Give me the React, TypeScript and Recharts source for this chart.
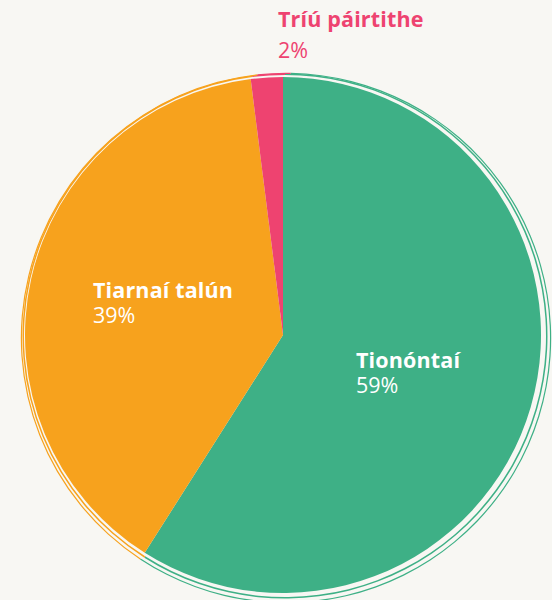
import { PieChart, Pie, Cell } from "recharts";

const categories = ["Tionóntaí", "Tiarnaí talún", "Tríú páirtithe"];
const shares = [59, 39, 2];
const colors = ["#3eb086", "#f7a21d", "#ee4370"];
const labelColors = ["#ffffff", "#ffffff", "#ee4370"];

const data = categories.map((name, i) => ({ name, value: shares[i] }));

const CX = 283;
const CY = 335;
const R = 258;
// label anchor offsets from pie centre (first-line baseline, left aligned)
const LABEL_OFFSETS = [
  { dx: 73, dy: 33, gap: 25 },
  { dx: -190, dy: -37, gap: 25 },
  { dx: -5, dy: -308, gap: 31 },
];

const FONT = "'Open Sans', 'Noto Sans', sans-serif";

interface LabelProps {
  cx: number;
  cy: number;
  index: number;
  name: string;
  value: number;
}

function renderLabel({ cx, cy, index, name, value }: LabelProps) {
  const off = LABEL_OFFSETS[index];
  const x = cx + off.dx;
  const y = cy + off.dy;
  return (
    <text x={x} y={y} fill={labelColors[index]} fontFamily={FONT} textAnchor="start">
      <tspan x={x} fontSize={21.5} fontWeight={700} letterSpacing={0.15}>
        {name}
      </tspan>
      <tspan x={x} dy={off.gap} fontSize={21.5} fontWeight={400}>
        {value}%
      </tspan>
    </text>
  );
}

export default function App() {
  return (
    <div
      style={{
        position: "absolute",
        left: 0,
        top: 0,
        width: 552,
        height: 600,
        background: "#f8f7f3",
        overflow: "hidden",
      }}
    >
      <PieChart width={552} height={600} margin={{ top: 0, right: 0, bottom: 0, left: 0 }}>
        {/* sketchy outer outlines */}
        <Pie
          data={data}
          dataKey="value"
          cx={CX + 2}
          cy={CY + 1}
          innerRadius={R + 3}
          outerRadius={R + 4.5}
          startAngle={90}
          endAngle={-270}
          stroke="none"
          isAnimationActive={false}
        >
          {data.map((d, i) => (
            <Cell key={d.name} fill={colors[i]} />
          ))}
        </Pie>
        <Pie
          data={data}
          dataKey="value"
          cx={CX + 3}
          cy={CY + 3}
          innerRadius={R + 6}
          outerRadius={R + 7.2}
          startAngle={89}
          endAngle={-271}
          stroke="none"
          isAnimationActive={false}
        >
          {data.map((d, i) => (
            <Cell key={d.name} fill={colors[i]} />
          ))}
        </Pie>
        <Pie
          data={data}
          dataKey="value"
          cx={CX}
          cy={CY}
          outerRadius={R}
          startAngle={90}
          endAngle={-270}
          stroke="none"
          labelLine={false}
          label={renderLabel}
          isAnimationActive={false}
        >
          {data.map((d, i) => (
            <Cell key={d.name} fill={colors[i]} />
          ))}
        </Pie>
      </PieChart>
    </div>
  );
}
